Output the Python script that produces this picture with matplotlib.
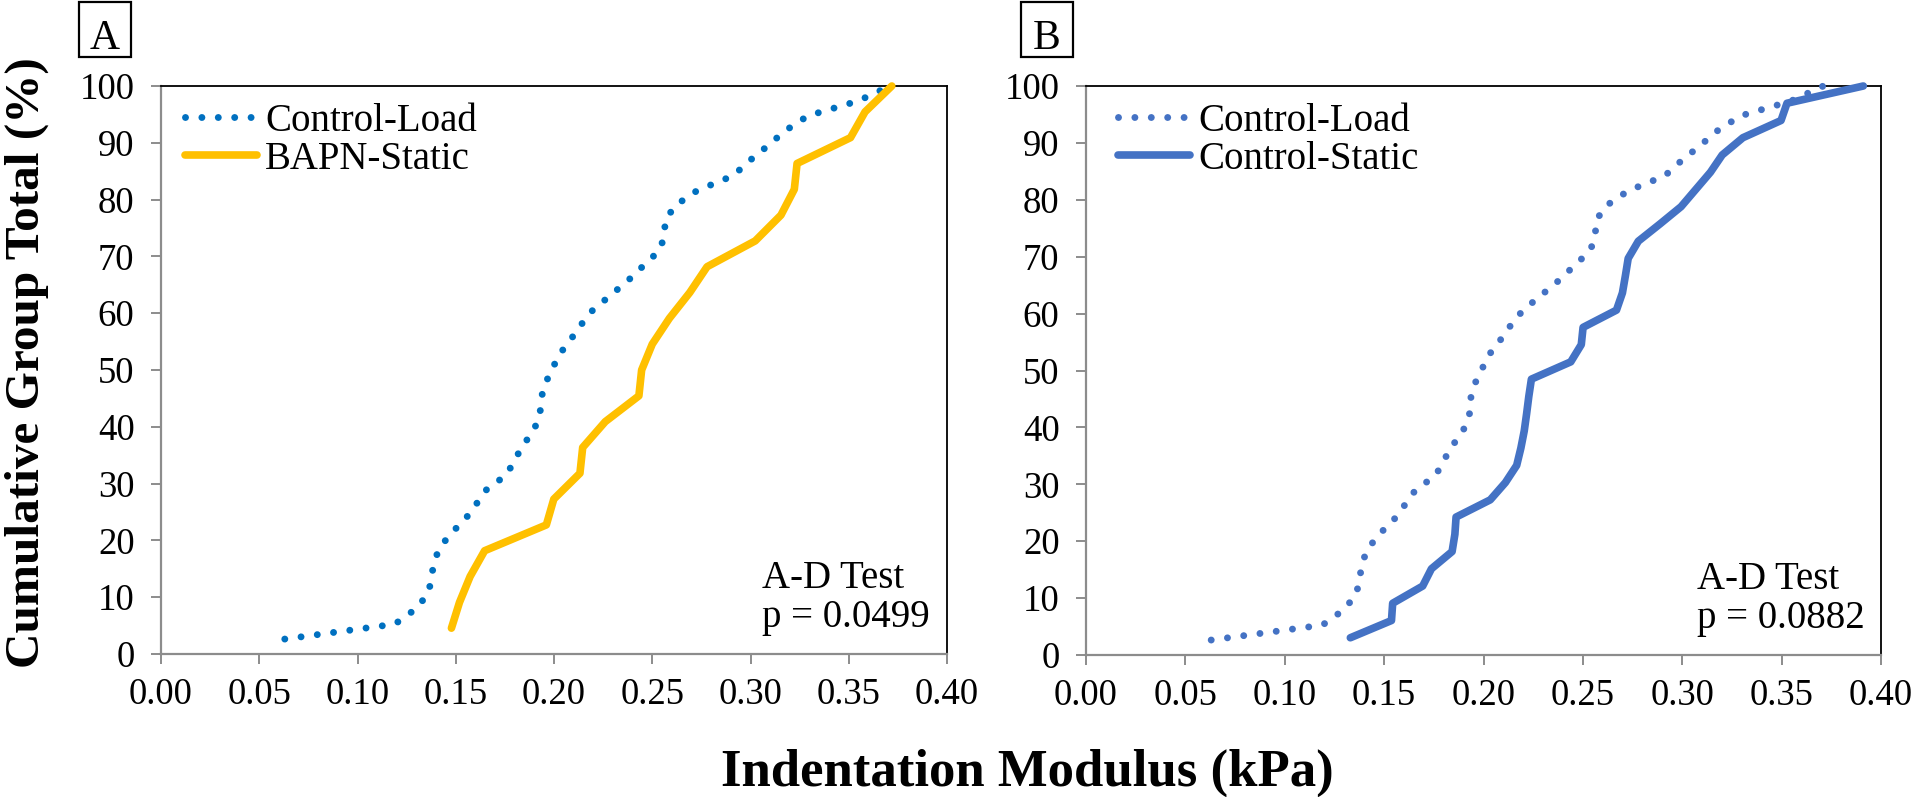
import matplotlib
matplotlib.use("Agg")
import matplotlib.pyplot as plt
from matplotlib.patches import Rectangle
from matplotlib.ticker import MultipleLocator, FormatStrFormatter

plt.rcParams['font.family'] = ['Liberation Serif', 'DejaVu Serif']

# ---------------- data ----------------
load_x = [0.063, 0.119, 0.1295, 0.1358, 0.1377, 0.1386, 0.1414, 0.147, 0.1547,
          0.1603, 0.1657, 0.176, 0.180, 0.1845, 0.1898, 0.1929, 0.1933, 0.1952,
          0.1989, 0.2025, 0.2083, 0.2136, 0.2197, 0.2288, 0.2378, 0.2457, 0.2537,
          0.2563, 0.2565, 0.2617, 0.2728, 0.2912, 0.2995, 0.3088, 0.3176, 0.3292,
          0.3548, 0.371]
load_y = [2.63, 5.26, 7.89, 10.53, 13.16, 15.79, 18.42, 21.05, 23.68, 26.32,
          28.95, 31.58, 34.21, 36.84, 39.47, 42.11, 44.74, 47.37, 50.0, 52.63,
          55.26, 57.89, 60.53, 63.16, 65.79, 68.42, 71.05, 73.68, 76.32, 78.95,
          81.58, 84.21, 86.84, 89.47, 92.11, 94.74, 97.37, 100.0]

bapn_x = [0.1478, 0.1519, 0.1573, 0.1647, 0.1961, 0.1999, 0.2132, 0.2146, 0.2261,
          0.2432, 0.2446, 0.2500, 0.2587, 0.2691, 0.2779, 0.3024, 0.3155, 0.3223,
          0.3237, 0.3509, 0.3583, 0.3719]
bapn_y = [4.55, 9.09, 13.64, 18.18, 22.73, 27.27, 31.82, 36.36, 40.91, 45.45,
          50.0, 54.55, 59.09, 63.64, 68.18, 72.73, 77.27, 81.82, 86.36, 90.91,
          95.45, 100.0]

static_x = [0.1330, 0.1537, 0.1543, 0.1694, 0.1738, 0.1842, 0.1856, 0.1862, 0.2034,
            0.2110, 0.2167, 0.2188, 0.2205, 0.2217, 0.2228, 0.2241, 0.2439, 0.2492,
            0.2501, 0.2669, 0.2699, 0.2714, 0.2728, 0.2779, 0.2888, 0.2994, 0.3068,
            0.3142, 0.3201, 0.3305, 0.3497, 0.3527, 0.3911]
static_y = [3.03, 6.06, 9.09, 12.12, 15.15, 18.18, 21.21, 24.24, 27.27, 30.30,
            33.33, 36.36, 39.39, 42.42, 45.45, 48.48, 51.52, 54.55, 57.58, 60.61,
            63.64, 66.67, 69.70, 72.73, 75.76, 78.79, 81.82, 84.85, 87.88, 90.91,
            93.94, 96.97, 100.0]

panel_labels = ["A", "B"]
series_names_a = ["Control-Load", "BAPN-Static"]
series_names_b = ["Control-Load", "Control-Static"]
pvalues = ["p = 0.0499", "p = 0.0882"]

# ---------------- figure ----------------
W, H = 1920, 797
fig = plt.figure(figsize=(W / 100, H / 100), dpi=100)

def px_axes(l, r, t, b):
    return fig.add_axes([l / W, 1 - b / H, (r - l) / W, (b - t) / H])

axA = px_axes(161, 947, 86, 654)
axB = px_axes(1086, 1881, 86, 655)

DOT_LW = 5.0
DOT_STYLE = (0, (0.001, 11.8 / DOT_LW))
SOLID_LW = 5.5
TICK_FS = 26.5
LEG_FS = 28

def style_axes(ax):
    ax.set_xlim(0, 0.40)
    ax.set_ylim(0, 100)
    ax.xaxis.set_major_locator(MultipleLocator(0.05))
    ax.yaxis.set_major_locator(MultipleLocator(10))
    ax.xaxis.set_major_formatter(FormatStrFormatter('%.2f'))
    for s in ['left', 'bottom']:
        ax.spines[s].set_color('#8c8c8c')
        ax.spines[s].set_linewidth(1.6)
    for s in ['top', 'right']:
        ax.spines[s].set_color('black')
        ax.spines[s].set_linewidth(1.3)
    ax.tick_params(axis='both', direction='out', length=7, width=1.4,
                   color='#8c8c8c', labelsize=TICK_FS)
    ax.tick_params(axis='x', pad=10)
    ax.tick_params(axis='y', pad=12)

def dotted(ax, x, y, color):
    ln, = ax.plot(x, y, color=color, lw=DOT_LW, linestyle=DOT_STYLE,
                  dash_capstyle='round', clip_on=False, zorder=3)
    return ln

def solid(ax, x, y, color):
    ln, = ax.plot(x, y, color=color, lw=SOLID_LW, solid_capstyle='round',
                  solid_joinstyle='round', clip_on=False, zorder=3)
    return ln

style_axes(axA)
style_axes(axB)

# Panel A
l1 = dotted(axA, load_x, load_y, '#0070C0')
l2 = solid(axA, bapn_x, bapn_y, '#FFC000')
# Panel B
l3 = dotted(axB, load_x, load_y, '#4472C4')
l4 = solid(axB, static_x, static_y, '#4472C4')

def make_legend(ax, handles, labels, x0):
    leg = ax.legend(handles, labels, loc='upper left', bbox_to_anchor=(x0, 0.970),
                    frameon=False, fontsize=LEG_FS, handlelength=1.85,
                    handletextpad=0.22, labelspacing=0.015, borderpad=0,
                    borderaxespad=0)
    return leg

make_legend(axA, [l1, l2], series_names_a, 0.030)
make_legend(axB, [l3, l4], series_names_b, 0.040)

for ax, pv, x0 in [(axA, pvalues[0], 0.764), (axB, pvalues[1], 0.768)]:
    ax.text(x0, 0.116, "A-D Test", transform=ax.transAxes, fontsize=LEG_FS,
            ha='left', va='baseline')
    ax.text(x0, 0.047, pv, transform=ax.transAxes, fontsize=LEG_FS,
            ha='left', va='baseline')

# Panel labels with boxes
for lab, (bl, br) in zip(panel_labels, [(79, 131), (1021, 1073)]):
    fig.patches.append(Rectangle((bl / W, 1 - 57 / H), (br - bl) / W, 55 / H,
                                 transform=fig.transFigure, fill=False,
                                 edgecolor='black', lw=1.6))
    fig.text((bl + br) / 2 / W, 1 - 49 / H, lab, fontsize=30, ha='center',
             va='baseline')

# Axis labels
fig.text(1027 / W, 1 - 786 / H, "Indentation Modulus (kPa)", fontsize=38,
         fontweight='bold', ha='center', va='baseline')
fig.text(27 / W, 1 - 363 / H, "Cumulative Group Total (%)", fontsize=35.5,
         fontweight='bold', ha='center', va='center', rotation=90)

fig.savefig("out.png", dpi=100)
